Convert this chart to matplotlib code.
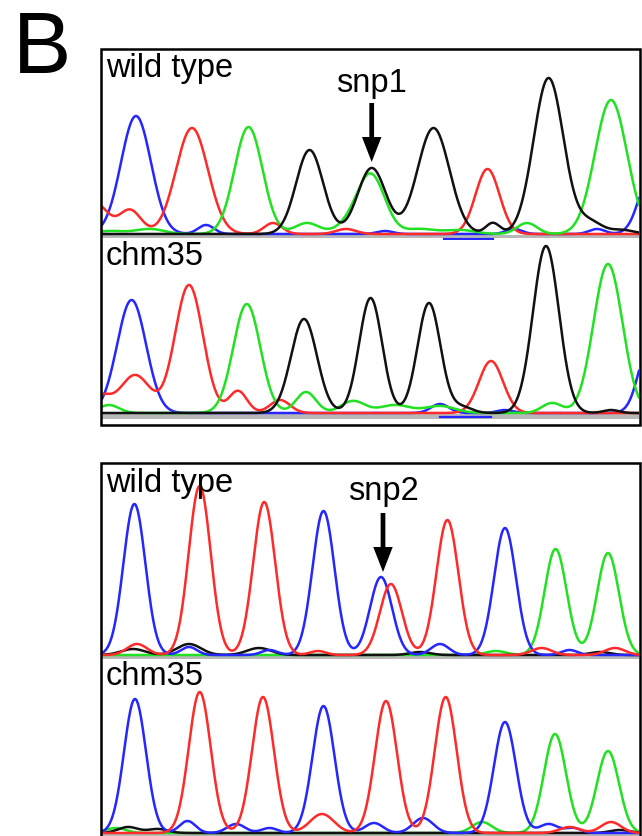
import numpy as np
import matplotlib
matplotlib.use("Agg")
import matplotlib.pyplot as plt
from matplotlib.patches import Rectangle

# ---------------- data: peaks as (scan position, height, width) ----------------
# Panel 1, wild type
P1A_BLUE = [(136, 118, 15), (206, 9, 8), (385, 3, 8), (514, 5, 8), (597, 5, 8), (652, 65, 12)]
P1A_RED = [(96, 30, 12), (130, 24, 11), (192, 106, 16), (273, 11, 9), (346, 5, 10), (487.5, 65, 12)]
P1A_GREEN = [(110, 3, 15), (150, 5, 14), (248.5, 107, 14), (307, 11, 12), (345, 6, 12),
             (370.6, 60, 14), (420, 5, 15), (460, 4, 15), (527, 11, 10), (611, 134, 16)]
P1A_BLACK = [(309.6, 84, 13.5), (371.7, 66, 14), (433.5, 106, 16), (492.8, 11, 7),
             (548.6, 156, 15), (590, 12, 12), (622, 4, 12)]
P1A_BLUE_BAR = (444, 493, -4.5)

# Panel 1, chm35
P1B_BLUE = [(131.6, 113, 14.5), (440, 9, 9), (505, 3, 8), (650, 70, 11)]
P1B_RED = [(100, 16, 10), (135, 38, 15), (189, 128, 14), (238, 22, 9), (280, 13, 10), (491, 52, 12)]
P1B_GREEN = [(109, 8, 10), (246.8, 109, 13.5), (306, 21, 10), (353, 12, 12), (395, 8, 15),
             (440, 7, 15), (552, 10, 10), (608, 149, 14.5)]
P1B_BLACK = [(304, 94, 13), (370.6, 115, 11.5), (429, 110, 11.5), (462, 6, 10),
             (546, 167, 13), (611, 3, 8)]
P1B_BLUE_BAR = (440, 491, -4)

# Panel 2, wild type
P2A_BLUE = [(134.4, 151, 11), (189, 8, 8), (269.5, 5, 8), (323.5, 144, 11), (381, 78, 11),
            (440, 11, 9), (505, 127, 11), (569.5, 5, 8)]
P2A_RED = [(137, 11, 10), (199.7, 169, 11), (264.2, 153, 11), (318, 4, 8), (390.9, 71, 11),
           (447.4, 135, 11), (541.6, 7, 10), (615, 7, 10)]
P2A_GREEN = [(496, 4, 10), (555.6, 106, 11), (608, 102, 11)]
P2A_BLACK = [(133, 6, 12), (189, 11, 12), (259, 7, 12), (420, 3, 10), (600, 3, 10)]

# Panel 2, chm35
P2B_BLUE = [(135, 134, 11), (187.5, 12, 8), (236, 9, 9), (269.5, 5, 8), (323.5, 127, 11),
            (374, 10, 9), (423, 15, 10), (505, 111, 11), (548.6, 9, 9), (573, 5, 8)]
P2B_RED = [(199.7, 141, 11), (263, 136, 11), (322, 19, 12), (386, 132, 11),
           (445.7, 136, 11), (569.5, 6, 10), (611, 11, 10)]
P2B_GREEN = [(116, 5, 10), (482, 11, 10), (555, 99, 11), (608, 82, 11)]
P2B_BLACK = [(128, 6, 10), (158, 4, 10), (620, 3, 10)]

LABELS = ["wild type", "chm35", "wild type", "chm35"]
SNP_LABELS = ["snp1", "snp2"]
SNP_POS = [371.7, 383]

COLORS = {"blue": "#2626ff", "red": "#ff2a2a", "green": "#22e022", "black": "#111111"}

W, H = 642, 836
fig = plt.figure(figsize=(W / 100, H / 100), dpi=100)
FONT = "Liberation Sans"


def rect(x0, top, x1, bottom):
    return [x0 / W, 1 - bottom / H, (x1 - x0) / W, (bottom - top) / H]


def trace(x, peaks):
    y = np.zeros_like(x)
    for p, h, s in peaks:
        y += h * np.exp(-((x - p) ** 2) / (2 * s * s))
    return y


x = np.linspace(102, 639, 3000)

panels = [
    dict(r=rect(102, 50, 639, 240), ylim=(-6, 184), gray=(-4, -1),
         ch=[("blue", P1A_BLUE), ("red", P1A_RED), ("green", P1A_GREEN), ("black", P1A_BLACK)],
         bar=P1A_BLUE_BAR),
    dict(r=rect(102, 240, 639, 420), ylim=(-7, 173), gray=(-6, -1),
         ch=[("blue", P1B_BLUE), ("red", P1B_RED), ("green", P1B_GREEN), ("black", P1B_BLACK)],
         bar=P1B_BLUE_BAR),
    dict(r=rect(102, 464, 639, 660), ylim=(-5, 191), gray=(-4, -1),
         ch=[("green", P2A_GREEN), ("black", P2A_BLACK), ("blue", P2A_BLUE), ("red", P2A_RED)],
         bar=None),
    dict(r=rect(102, 660, 639, 836), ylim=(-3, 173), gray=(-3, -1),
         ch=[("green", P2B_GREEN), ("black", P2B_BLACK), ("blue", P2B_BLUE), ("red", P2B_RED)],
         bar=None),
]
LABEL_BASE = [77, 265, 492, 685]
PANEL_TOPS = [50, 240, 464, 660]

axes = []
for i, pn in enumerate(panels):
    ax = fig.add_axes(pn["r"])
    ax.set_xlim(102, 639)
    ax.set_ylim(*pn["ylim"])
    ax.axis("off")
    ax.axhspan(pn["gray"][0], pn["gray"][1], color="#b8b8b8", lw=0, zorder=0)
    for name, peaks in pn["ch"]:
        ax.plot(x, trace(x, peaks), color=COLORS[name], lw=1.8, solid_capstyle="round", zorder=2)
    if pn["bar"] is not None:
        x0, x1, yb = pn["bar"]
        ax.plot([x0, x1], [yb, yb], color="#2626ff", lw=1.6, zorder=3)
    ax.text(106, pn["ylim"][1] - (LABEL_BASE[i] - PANEL_TOPS[i]), LABELS[i],
            fontsize=23.5, family=FONT, ha="left", va="baseline", color="black")
    axes.append(ax)

# SNP annotations
for ax, lab, pos, (tip, tail, ty) in zip([axes[0], axes[2]], SNP_LABELS, SNP_POS,
                                         [(72, 131, 142), (83, 142, 155)]):
    ax.annotate("", xy=(pos, tip), xytext=(pos, tail), annotation_clip=False,
                arrowprops=dict(arrowstyle="simple,head_length=18,head_width=14,tail_width=3.4",
                                mutation_scale=1, color="black", lw=0, shrinkA=0, shrinkB=0))
    ax.text(pos, ty, lab, fontsize=23.5, family=FONT, ha="center", va="baseline", clip_on=False)

# Outer boxes
fig.add_artist(Rectangle((101 / W, 1 - 425 / H), (640 - 101) / W, (425 - 49) / H,
                         fill=False, lw=1.8, ec="black", transform=fig.transFigure))
fig.add_artist(Rectangle((101 / W, 1 - 850 / H), (640 - 101) / W, (850 - 463) / H,
                         fill=False, lw=1.8, ec="black", transform=fig.transFigure, clip_on=False))

fig.text(13 / W, 1 - 73 / H, "B", fontsize=63, family=FONT, ha="left", va="baseline")

fig.savefig("out.png", dpi=100)
